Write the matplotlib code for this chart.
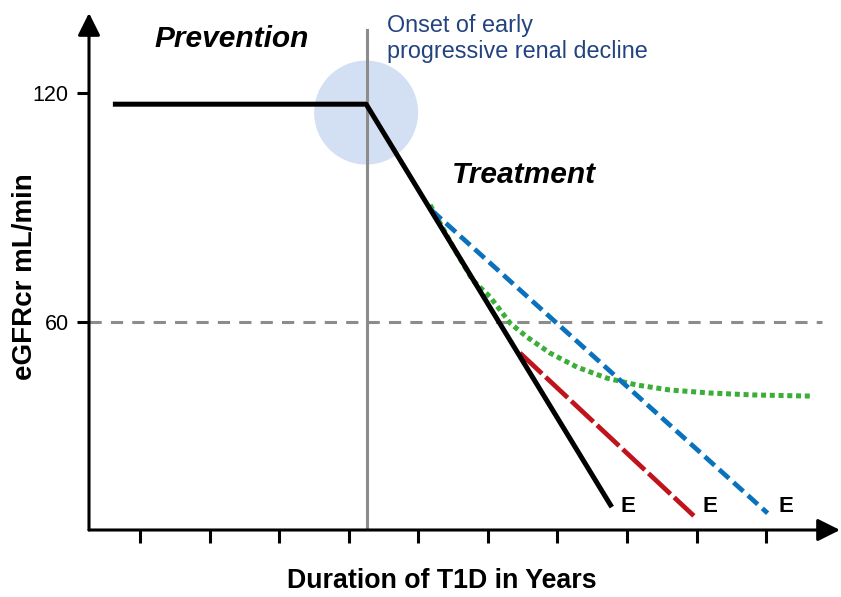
import matplotlib
matplotlib.use("Agg")
import matplotlib.pyplot as plt
from matplotlib.patches import Ellipse

plt.rcParams['font.family'] = ['Liberation Sans', 'DejaVu Sans']

# 示意曲线（x: 病程年数, y: eGFR）
black_x = [0.61, 4.25, 7.78]
black_y = [117.1, 117.1, 11.5]

blue_x = [5.19, 10.02]
blue_y = [89.3, 9.9]

red_x = [6.46, 8.96]
red_y = [51.9, 9.2]

green_x = [5.17, 5.50, 5.78, 6.03, 6.32, 6.56, 6.89, 7.28, 7.71, 8.14, 8.61, 9.19, 9.81, 10.63]
green_y = [90.7, 79.7, 71.0, 66.6, 59.7, 56.1, 51.9, 48.2, 45.3, 43.5, 42.2, 41.4, 40.9, 40.6]

onset_x = 4.26
threshold = 60
ytick_vals = [60, 120]
xtick_vals = list(range(1, 11))
end_x = [7.90, 9.09, 10.17]
end_y = 10.2

fig = plt.figure(figsize=(8.41, 5.97), dpi=100)
ax = fig.add_axes([89 / 841, 67 / 597, 751 / 841, 517 / 597])
ax.set_xlim(0.267, 11.06)
ax.set_ylim(5.5, 141.0)

for s in ax.spines.values():
    s.set_visible(False)

# 坐标轴箭头
arrow = dict(arrowstyle='-|>,head_length=0.8,head_width=0.4', lw=2.2, color='black',
             mutation_scale=17, shrinkA=0, shrinkB=0)
ax.annotate('', xy=(0, 1), xycoords='axes fraction', xytext=(0, 0), arrowprops=arrow)
ax.annotate('', xy=(1, 0), xycoords='axes fraction', xytext=(0, 0), arrowprops=arrow)

ax.set_xticks(xtick_vals)
ax.set_xticklabels([])
ax.set_yticks(ytick_vals)
ax.set_yticklabels([str(v) for v in ytick_vals], fontsize=15.5)
ax.tick_params(axis='x', direction='out', length=9.5, width=2.2, color='black')
ax.tick_params(axis='y', direction='out', length=8.5, width=2.2, color='black', pad=6)

# 起始点圆圈和竖线
ax.add_patch(Ellipse((4.25, 114.9), 2 * 52 / 69.6, 2 * 52 * 0.262,
                     facecolor='#d3dff2', edgecolor='none', zorder=1))
ax.plot([onset_x, onset_x], [5.5, 136.6], color='#8c8c8c', lw=2.2, zorder=2)
ax.axhline(threshold, xmin=0, xmax=(10.80 - 0.267) / (11.06 - 0.267),
           color='#8c8c8c', lw=2.2, dashes=(4, 3), zorder=2)

ax.plot(green_x, green_y, color='#3aae38', lw=3.6, dashes=(1.0, 0.75), zorder=3)
ax.plot(blue_x, blue_y, color='#0a72bd', lw=3.4, dashes=(2.8, 1.3), zorder=3)
ax.plot(red_x, red_y, color='#c0141c', lw=3.4, dashes=(6.4, 1.06), zorder=3)
ax.plot(black_x, black_y, color='black', lw=3.6, zorder=4, solid_capstyle='butt')

for ex in end_x:
    ax.text(ex, end_y, 'E', fontsize=16, fontweight='bold', ha='left', va='baseline')

ax.text(1.215, 132.1, 'Prevention', fontsize=21.5, fontweight='bold', fontstyle='italic',
        ha='left', va='baseline')
ax.text(5.48, 96.4, 'Treatment', fontsize=21.5, fontweight='bold', fontstyle='italic',
        ha='left', va='baseline')
ax.text(4.55, 136.0, 'Onset of early', fontsize=16.8, color='#22437f', ha='left', va='baseline')
ax.text(4.55, 129.2, 'progressive renal decline', fontsize=16.8, color='#22437f',
        ha='left', va='baseline')

fig.text(25 / 841, 1 - 277 / 597, 'eGFRcr mL/min', fontsize=20, fontweight='bold',
         rotation=90, ha='center', va='center')
fig.text(442 / 841, 1 - 581 / 597, 'Duration of T1D in Years', fontsize=19.3, fontweight='bold',
         ha='center', va='center')

fig.savefig('out.png', dpi=100)
